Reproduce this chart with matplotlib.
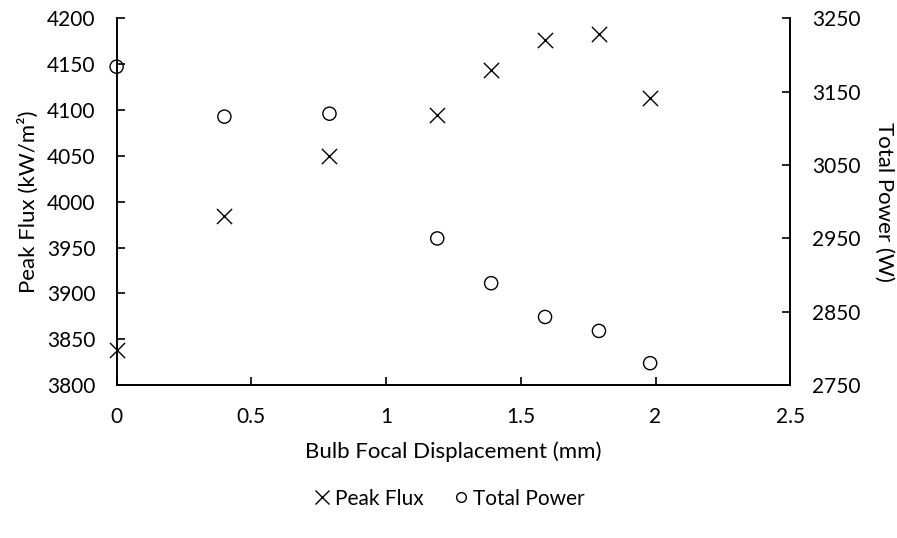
import matplotlib
matplotlib.use('Agg')
import matplotlib.pyplot as plt
from matplotlib.lines import Line2D

plt.rcParams['font.family'] = ['Lato', 'DejaVu Sans']

# bulb focal displacement (mm)
disp = [0, 0.4, 0.79, 1.19, 1.39, 1.59, 1.79, 1.98]
# peak flux (kW/m2), left axis
peak_flux = [3838, 3985, 4050, 4095, 4144, 4176, 4183, 4113]
# total power (W), right axis
total_power = [3184, 3116, 3120, 2950, 2889, 2843, 2824, 2780]

fig = plt.figure(figsize=(8.97, 5.38), dpi=100)
ax = fig.add_axes([0.130, 0.284, 0.751, 0.682])
ax2 = ax.twinx()

ax.scatter(disp, peak_flux, marker='x', s=120, c='black', linewidths=1.0, zorder=3, clip_on=False)
ax2.scatter(disp, total_power, marker='o', s=90, facecolors='none', edgecolors='black', linewidths=1.0, zorder=3, clip_on=False)

ax.set_xlim(0, 2.5)
ax.set_ylim(3800, 4200)
ax2.set_ylim(2750, 3250)
ax.set_xticks([0, 0.5, 1, 1.5, 2, 2.5])
ax.set_xticklabels(['0', '0.5', '1', '1.5', '2', '2.5'])
ax.set_yticks(range(3800, 4201, 50))
ax2.set_yticks(range(2750, 3251, 100))

for a in (ax, ax2):
    a.spines['top'].set_visible(False)
    for s in a.spines.values():
        s.set_linewidth(1.2)
ax.tick_params(axis='x', direction='in', length=6, width=1.2, labelsize=15, pad=16)
ax.tick_params(axis='y', direction='in', length=6, width=1.2, labelsize=15, pad=15)
ax2.tick_params(axis='y', direction='in', length=6, width=1.2, labelsize=15, pad=16)

ax.set_xlabel('Bulb Focal Displacement (mm)', fontsize=16, labelpad=10)
ax.set_ylabel('Peak Flux (kW/m²)', fontsize=16, labelpad=6)
ax2.set_ylabel('Total Power (W)', fontsize=16, rotation=270, labelpad=24)

handles = [Line2D([], [], marker='x', ls='none', color='black', markersize=10, mew=1.0),
           Line2D([], [], marker='o', ls='none', mfc='none', mec='black', markersize=7, mew=1.0)]
fig.legend(handles, ['Peak Flux', 'Total Power'], loc='center', bbox_to_anchor=(0.5, 0.073),
           ncol=2, frameon=False, fontsize=15, handletextpad=0.1, columnspacing=1.3, handlelength=1.0)

fig.savefig('out.png', dpi=100)
